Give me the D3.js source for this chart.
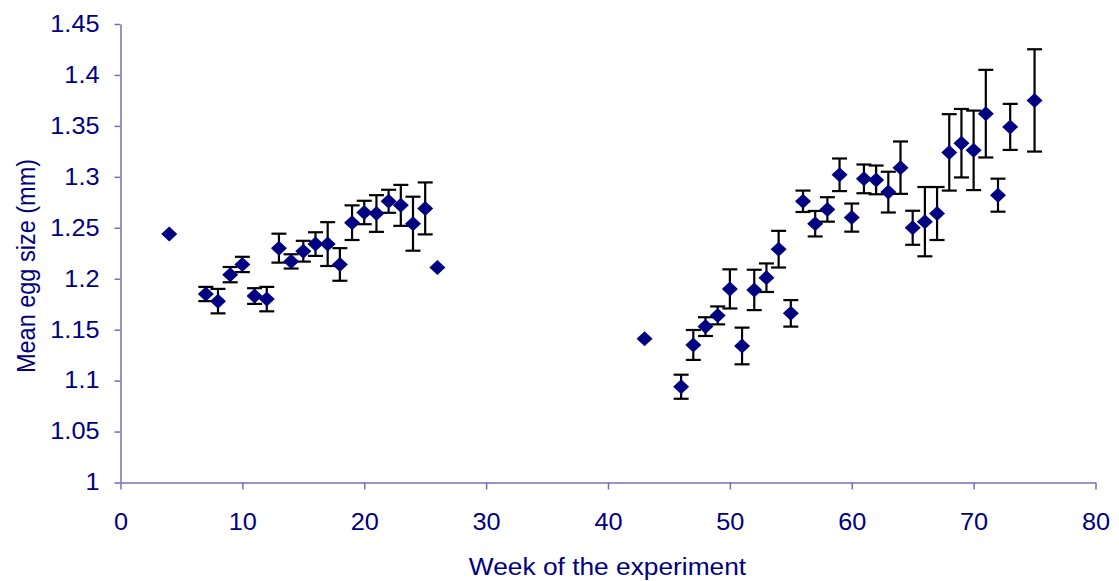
<!DOCTYPE html>
<html>
<head>
<meta charset="utf-8">
<script src="https://cdn.jsdelivr.net/npm/d3@7"></script>
<style>
  html, body { margin: 0; padding: 0; background: #fff; }
  svg { display: block; }
  text { font-family: "Liberation Sans", Arial, sans-serif; }
</style>
</head>
<body>
<svg id="chart" width="1119" height="581"></svg>
<script>
// Mean egg size per week, with standard error (null = no error bar)
const weeks = [4, 7, 8, 9, 10, 11, 12, 13, 14, 15, 16, 17, 18, 19, 20, 21, 22, 23, 24, 25, 26,
  43, 46, 47, 48, 49, 50, 51, 52, 53, 54, 55, 56, 57, 58, 59, 60, 61, 62, 63, 64, 65, 66, 67,
  68, 69, 70, 71, 72, 73, 75];
const meanSize = [1.244, 1.185, 1.178, 1.204, 1.214, 1.183, 1.180, 1.230, 1.217, 1.227, 1.234,
  1.234, 1.214, 1.255, 1.265, 1.264, 1.276, 1.272, 1.254, 1.269, 1.211,
  1.141, 1.094, 1.135, 1.153, 1.164, 1.190, 1.134, 1.189, 1.201, 1.229, 1.166, 1.276, 1.254,
  1.268, 1.302, 1.260, 1.298, 1.297, 1.285, 1.309, 1.250, 1.256, 1.264,
  1.324, 1.333, 1.326, 1.362, 1.282, 1.349, 1.375];
const stdErr = [null, 0.007, 0.012, 0.0075, 0.0075, 0.0077, 0.012, 0.0142, 0.007, 0.0102, 0.0116,
  0.0215, 0.016, 0.017, 0.0115, 0.018, 0.0113, 0.0201, 0.0265, 0.0255, null,
  null, 0.0118, 0.0147, 0.0092, 0.0088, 0.0192, 0.018, 0.0198, 0.014, 0.018, 0.013, 0.0105, 0.0125,
  0.012, 0.016, 0.0138, 0.0141, 0.0141, 0.02, 0.0257, 0.0167, 0.034, 0.026,
  0.0375, 0.0336, 0.039, 0.043, 0.0162, 0.0226, 0.0502];

const xTicks = [0, 10, 20, 30, 40, 50, 60, 70, 80];
const yTicks = [1, 1.05, 1.1, 1.15, 1.2, 1.25, 1.3, 1.35, 1.4, 1.45];

const points = weeks.map((w, i) => ({ week: w, mean: meanSize[i], se: stdErr[i] }));

const svg = d3.select("#chart");
const axisColor = "#7272b8";
const textColor = "#000080";
const fontStack = "'Liberation Sans', Arial, sans-serif";
const stretch = 1.1;   // slightly wide lettering

const x = d3.scaleLinear().domain([0, 80]).range([120.5, 1095.5]);
const y = d3.scaleLinear().domain([1, 1.45]).range([482.5, 24]);

// Y axis
const yAxis = svg.append("g")
  .attr("transform", `translate(${x(0)},0)`)
  .call(d3.axisLeft(y).tickValues(yTicks).tickFormat(d => String(+d.toFixed(2)))
    .tickSize(6).tickSizeOuter(0).tickPadding(15));

// X axis
const xAxis = svg.append("g")
  .attr("transform", `translate(0,${y(1)})`)
  .call(d3.axisBottom(x).tickValues(xTicks).tickFormat(d3.format("d"))
    .tickSize(7).tickSizeOuter(0).tickPadding(24));

[yAxis, xAxis].forEach(g => {
  g.select(".domain").attr("stroke", axisColor).attr("stroke-width", 1.5);
  g.selectAll(".tick line").attr("stroke", axisColor).attr("stroke-width", 1.5);
  g.selectAll(".tick text")
    .attr("fill", textColor)
    .style("font-size", "23px")
    .style("font-family", fontStack);
});

// widen tick labels horizontally around their anchor point
yAxis.selectAll(".tick text").each(function () {
  const t = d3.select(this);
  const tx = +t.attr("x");
  t.attr("x", 0).attr("transform", `translate(${tx},0) scale(${stretch},1)`);
});
xAxis.selectAll(".tick text").attr("transform", `scale(${stretch},1)`);

// Error bars
const bars = svg.append("g").attr("stroke", "#000").attr("stroke-width", 2.2).attr("fill", "none");
const withErr = points.filter(d => d.se != null);
const capHalf = 7.5;
bars.selectAll("line.stem").data(withErr).join("line")
  .attr("class", "stem")
  .attr("x1", d => x(d.week)).attr("x2", d => x(d.week))
  .attr("y1", d => y(d.mean - d.se)).attr("y2", d => y(d.mean + d.se));
bars.selectAll("line.capTop").data(withErr).join("line")
  .attr("class", "capTop")
  .attr("x1", d => x(d.week) - capHalf).attr("x2", d => x(d.week) + capHalf)
  .attr("y1", d => y(d.mean + d.se)).attr("y2", d => y(d.mean + d.se));
bars.selectAll("line.capBot").data(withErr).join("line")
  .attr("class", "capBot")
  .attr("x1", d => x(d.week) - capHalf).attr("x2", d => x(d.week) + capHalf)
  .attr("y1", d => y(d.mean - d.se)).attr("y2", d => y(d.mean - d.se));

// Diamond markers
const hw = 8, hh = 7.5;
svg.append("g").selectAll("path").data(points).join("path")
  .attr("d", `M0,${-hh}L${hw},0L0,${hh}L${-hw},0Z`)
  .attr("transform", d => `translate(${x(d.week)},${y(d.mean)})`)
  .attr("fill", "#000080");

// Axis titles
svg.append("text")
  .attr("transform", `translate(607.5,575) scale(1.12,1)`)
  .attr("text-anchor", "middle")
  .attr("fill", textColor)
  .style("font-size", "23.5px")
  .text("Week of the experiment");

svg.append("text")
  .attr("transform", `translate(35,266) scale(1.1,1) rotate(-90)`)
  .attr("text-anchor", "middle")
  .attr("fill", textColor)
  .style("font-size", "23.5px")
  .text("Mean egg size (mm)");
</script>
</body>
</html>
